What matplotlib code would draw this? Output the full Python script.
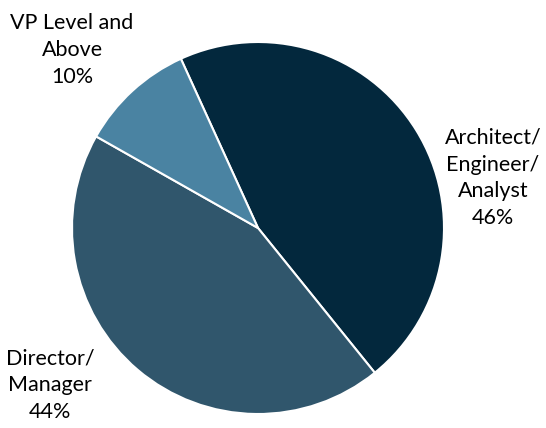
import matplotlib.pyplot as plt

# share of respondents by job level
levels = ['Architect/\nEngineer/\nAnalyst', 'Director/\nManager', 'VP Level and\nAbove']
shares = [46, 44, 10]
colors = ['#03283D', '#30566C', '#4A83A2']

W, H = 546, 428
fig = plt.figure(figsize=(W / 100, H / 100), dpi=100)
ax = fig.add_axes([0, 0, 1, 1])

ax.pie(shares, colors=colors, startangle=114.5, counterclock=False,
       center=(258, 200), radius=186, frame=True,
       wedgeprops=dict(edgecolor='white', linewidth=1.5))
ax.set_xlim(0, W)
ax.set_ylim(0, H)
ax.set_aspect('equal')
ax.axis('off')

label_pos = [(493, 250), (50, 43), (72, 378)]
for name, val, (x, y) in zip(levels, shares, label_pos):
    ax.text(x, y, f'{name}\n{val}%', ha='center', va='center',
            fontsize=15.5, family='Lato', linespacing=1.42, color='black')

fig.savefig('out.png', dpi=100)
